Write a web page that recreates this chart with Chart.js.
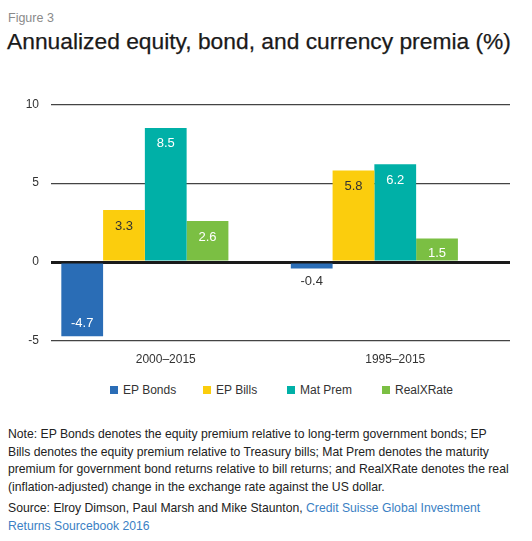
<!DOCTYPE html>
<html>
<head>
<meta charset="utf-8">
<script src="https://cdn.jsdelivr.net/npm/chart.js@4"></script>
<style>
  body { margin:0; width:532px; height:541px; background:#fff; font-family:"Liberation Sans", Arial, sans-serif; position:relative; overflow:hidden; }
  #fig { position:absolute; left:8px; top:11px; font-size:12.5px; color:#8a8a8a; }
  #title { position:absolute; left:7px; top:28px; font-size:22.8px; color:#1a1a1a; white-space:nowrap; -webkit-text-stroke:0.25px #1a1a1a; }
  #wrap { position:absolute; left:0; top:85px; width:532px; height:285px; }
  #legend { position:absolute; top:383px; left:0; width:532px; height:16px; font-size:12px; color:#333; }
  #legend span.item { position:absolute; top:0; white-space:nowrap; }
  #legend i { display:inline-block; width:8px; height:8px; margin-right:5px; vertical-align:0px; }
  #note { position:absolute; left:8px; top:426px; width:524px; font-size:12.2px; line-height:17.5px; color:#222; }
  #source { position:absolute; left:8px; top:500px; width:524px; font-size:12.2px; line-height:17.5px; color:#222; }
  #source a { color:#3b7fc4; text-decoration:none; }
</style>
</head>
<body>
<div id="fig">Figure 3</div>
<div id="title">Annualized equity, bond, and currency premia (%)</div>
<div id="wrap"><canvas id="chart" width="532" height="285"></canvas></div>
<div id="legend"></div>
<div id="note">Note: EP Bonds denotes the equity premium relative to long-term government bonds; EP<br>Bills denotes the equity premium relative to Treasury bills; Mat Prem denotes the maturity<br>premium for government bond returns relative to bill returns; and RealXRate denotes the real<br>(inflation-adjusted) change in the exchange rate against the US dollar.</div>
<div id="source">Source: Elroy Dimson, Paul Marsh and Mike Staunton, <a>Credit Suisse Global Investment<br>Returns Sourcebook 2016</a></div>

<script>
const periods = ['2000\u20132015', '1995\u20132015'];
const epBonds = [-4.7, -0.4];
const epBills = [3.3, 5.8];
const matPrem = [8.5, 6.2];
const realXRate = [2.6, 1.5];
const yTicks = [-5, 0, 5, 10];

const series = [
  { label:'EP Bonds', data:epBonds, color:'#2a6db6', text:'#fff' },
  { label:'EP Bills', data:epBills, color:'#fbcd0d', text:'#333' },
  { label:'Mat Prem', data:matPrem, color:'#00b0a7', text:'#fff' },
  { label:'RealXRate', data:realXRate, color:'#7bbf43', text:'#fff' }
];

// legend (html)
const legendPos = [110, 203, 287, 382];
const lg = document.getElementById('legend');
series.forEach((s, i) => {
  const sp = document.createElement('span');
  sp.className = 'item';
  sp.style.left = legendPos[i] + 'px';
  sp.innerHTML = `<i style="background:${s.color}"></i>${s.label}`;
  lg.appendChild(sp);
});

// values drawn on the bars
const barLabels = {
  id:'barLabels',
  afterDatasetsDraw(chart){
    const c = chart.ctx;
    c.save();
    c.font = '13px "Liberation Sans", Arial, sans-serif';
    c.textAlign = 'center';
    c.textBaseline = 'middle';
    series.forEach((s, di) => {
      chart.getDatasetMeta(di).data.forEach((bar, i) => {
        const v = s.data[i];
        const h = Math.abs(bar.base - bar.y);
        let y, col = s.text;
        if (h < 15) { y = v < 0 ? bar.y + 13 : bar.y - 13; col = '#333'; }
        else y = v < 0 ? bar.y - 13 : bar.y + (h < 30 ? 15 : 16);
        c.fillStyle = col;
        c.fillText(v.toFixed(1), bar.x, y);
      });
    });
    c.restore();
  }
};

const datasets = series.map(s => ({ label:s.label, data:s.data, backgroundColor:s.color, borderWidth:0 }));
// empty slot so the bars sit left of the category label, as in the source
datasets.push({ label:'', data:periods.map(() => null), backgroundColor:'rgba(0,0,0,0)' });

new Chart(document.getElementById('chart'), {
  type:'bar',
  data:{ labels:periods, datasets },
  plugins:[barLabels],
  options:{
    responsive:false,
    animation:false,
    layout:{ padding:{ top:18, right:22, left:0, bottom:0 } },
    plugins:{ legend:{ display:false }, tooltip:{ enabled:false } },
    datasets:{ bar:{ categoryPercentage:0.91, barPercentage:1 } },
    scales:{
      x:{
        grid:{ display:false, drawTicks:false },
        border:{ display:false },
        ticks:{ color:'#333', font:{ size:12, family:'"Liberation Sans", Arial, sans-serif' }, padding:11 },
        afterFit(a){ a.height = 29; }
      },
      y:{
        min:-5, max:10,
        afterBuildTicks(a){ a.ticks = yTicks.map(v => ({ value:v })); },
        grid:{
          drawTicks:false,
          color:ctx => ctx.tick && ctx.tick.value === 0 ? '#1a1a1a' : '#444',
          lineWidth:ctx => ctx.tick && ctx.tick.value === 0 ? 3 : 1.2
        },
        border:{ display:false },
        ticks:{ color:'#333', font:{ size:12, family:'"Liberation Sans", Arial, sans-serif' }, padding:12 },
        afterFit(a){ a.width = 51; }
      }
    }
  }
});
</script>
</body>
</html>
